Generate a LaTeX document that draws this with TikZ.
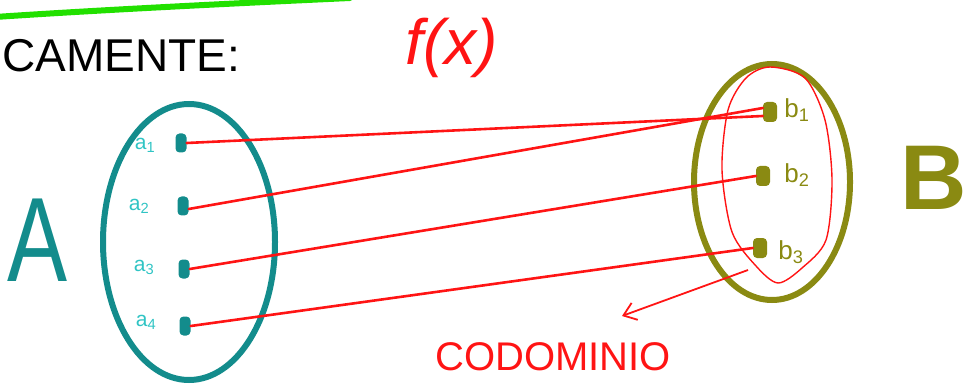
\documentclass[tikz,border=0pt]{standalone}
\usepackage{fontspec}
\setmainfont{Liberation Sans}
\usetikzlibrary{arrows.meta}
\definecolor{tealA}{HTML}{138C8C}
\definecolor{tealL}{HTML}{30C4C4}
\definecolor{oliveB}{HTML}{8A8A12}
\definecolor{redF}{HTML}{FF1414}
\definecolor{greenL}{HTML}{22E000}
\tikzset{
  dotA/.style={draw=none,fill=tealA,rounded corners=4pt,minimum width=11pt,minimum height=19pt,inner sep=0pt},
  dotB/.style={draw=none,fill=oliveB,rounded corners=4pt,minimum width=14pt,minimum height=20pt,inner sep=0pt},
  lblA/.style={text=tealL,font=\fontsize{21}{21}\selectfont,inner sep=0pt},
  lblB/.style={text=oliveB,font=\fontsize{26}{26}\selectfont,inner sep=0pt},
  link/.style={draw=redF,line width=2.6pt,line cap=round},
}
\begin{document}
\begin{tikzpicture}[x=1pt,y=-1pt]
\useasboundingbox (0,0) rectangle (965,387);
% green top line
\draw[greenL,line width=6pt,line cap=round] (-5,17) .. controls (100,10) and (220,4) .. (350,-2);
% title
\node[anchor=west,inner sep=0pt,font=\fontsize{46}{46}\selectfont] (title) at (2,56) {CAMENTE:};
\node[inner sep=0pt,text=redF,font=\itshape\fontsize{64}{64}\selectfont] (fx) at (452,48) {f(x)};
% big letters
\node[inner sep=0pt,text=tealA,font=\fontsize{120}{120}\selectfont,xscale=0.75] (Aletter) at (38,240) {A};
\node[inner sep=0pt,text=oliveB,font=\bfseries\fontsize{92}{92}\selectfont,anchor=west] (Bletter) at (900,178) {B};
% sets
\draw[tealA,line width=6pt] (189,242) ellipse [x radius=86, y radius=138];
\draw[oliveB,line width=6pt] (772,182) ellipse [x radius=78, y radius=118];
\draw[redF,line width=1.4pt] plot[smooth cycle] coordinates {(770,67) (805,78) (825,120) (832,180) (826,240) (802,268) (778,283) (756,266) (732,232) (722,170) (728,110) (746,78)};
% A elements
\node[dotA] (a1) at (181,143) {};
\node[dotA] (a2) at (183,206) {};
\node[dotA] (a3) at (184,269) {};
\node[dotA] (a4) at (185,326) {};
\node[lblA] (la1) at (145,145) {a\textsubscript{1}};
\node[lblA] (la2) at (139,206) {a\textsubscript{2}};
\node[lblA] (la3) at (144,267) {a\textsubscript{3}};
\node[lblA] (la4) at (146,322) {a\textsubscript{4}};
% B elements
\node[dotB] (b1) at (770,112) {};
\node[dotB] (b2) at (763,176) {};
\node[dotB] (b3) at (760,248) {};
\node[lblB] (lb1) at (797,110) {b\textsubscript{1}};
\node[lblB] (lb2) at (797,175) {b\textsubscript{2}};
\node[lblB] (lb3) at (791,252) {b\textsubscript{3}};
% mapping
\draw[link] (a1.east) -- ([yshift=-4pt]b1.west);
\draw[link] ([yshift=-3pt]a2.east) -- ([yshift=4pt]b1.west);
\draw[link] (a3.east) -- (b2.west);
\draw[link] (a4.east) -- (b3.west);
% codomain
\coordinate (cstart) at (748,270);
\node[inner sep=0pt,text=redF,font=\fontsize{40}{40}\selectfont] (codo) at (553,357) {CODOMINIO};
\draw[redF,line width=1.8pt,-{Straight Barb[length=12pt,width=18pt]}] (cstart) -- (622,316);
\end{tikzpicture}
\end{document}
